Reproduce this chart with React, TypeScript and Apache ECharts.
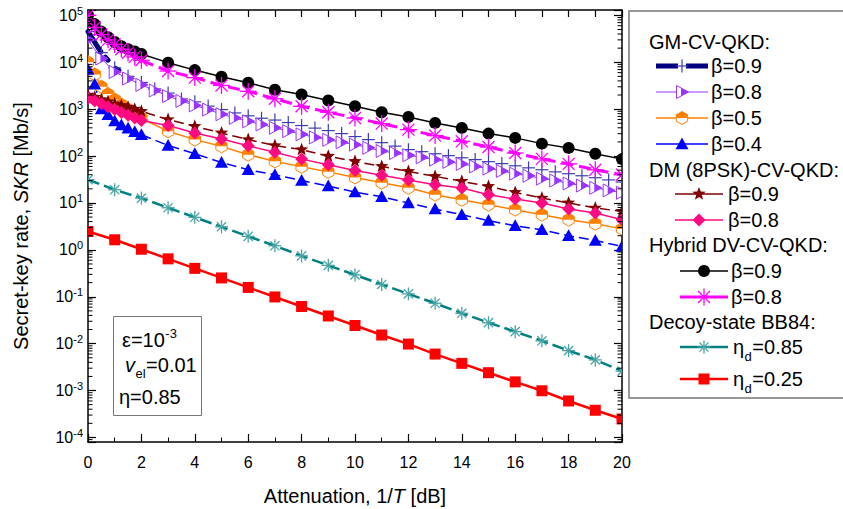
import React, { useEffect, useRef } from 'react';
import * as echarts from 'echarts';

// ---------------- data ----------------
const xHalf = [0, 0.5, 1, 1.5, 2, 2.5, 3, 3.5, 4, 4.5, 5, 5.5, 6, 6.5, 7, 7.5, 8, 8.5, 9, 9.5, 10, 10.5, 11, 11.5, 12, 12.5, 13, 13.5, 14, 14.5, 15, 15.5, 16, 16.5, 17, 17.5, 18, 18.5, 19, 19.5, 20];
const xDense = [0, 0.25, 0.5, 0.75, 1, 1.25, 1.5, 1.75, 2, 3, 4, 5, 6, 7, 8, 9, 10, 11, 12, 13, 14, 15, 16, 17, 18, 19, 20];
const xInt = [0, 1, 2, 3, 4, 5, 6, 7, 8, 9, 10, 11, 12, 13, 14, 15, 16, 17, 18, 19, 20];

// GM-CV-QKD
const gmB09 = [45000, 16000, 7600, 5000, 3700, 2700, 2200, 1650, 1430, 1160, 980, 830, 720, 640, 585, 518, 447, 394, 349, 301, 260, 224, 193, 163, 137, 124, 112, 102, 92, 84, 76, 69, 62, 56, 51, 46, 42, 38, 34.5, 31, 28];
const gmB08 = [30000, 12000, 6200, 4500, 3300, 2500, 1900, 1500, 1200, 980, 780, 650, 550, 470, 400, 340, 290, 250, 222, 196, 175, 150, 128, 116, 104, 94, 84, 75, 68, 60, 54, 48, 42, 38, 33, 30, 26, 23.5, 21, 18.5, 16.5];
const gmB05 = [10000, 5500, 3000, 2100, 1600, 1250, 1000, 800, 640, 337, 224, 161, 107, 77, 59, 46, 35, 27, 21, 15, 11.7, 9.2, 7.2, 5.6, 4.4, 3.6, 2.8];
const gmB04 = [7000, 3400, 1000, 760, 560, 460, 390, 330, 285, 168, 112, 73, 51, 40, 30, 23, 17, 13.5, 10, 7.4, 5.6, 4.2, 3.26, 2.67, 2.0, 1.58, 1.18];
// DM (8PSK)-CV-QKD
const dmB09 = [2000, 1800, 1600, 1450, 1300, 1200, 1100, 1000, 900, 600, 431, 310, 224, 167, 137, 99, 77, 60, 47, 37, 29, 22.5, 16.8, 12.7, 10, 7.8, 6.6];
const dmB08 = [1700, 1500, 1300, 1120, 980, 850, 740, 650, 570, 447, 310, 230, 165, 120, 86, 65, 49, 39, 31, 24.5, 20.8, 15, 12.1, 10, 7.4, 6.1, 4.4];
// Hybrid DV-CV-QKD
const hyB09 = [100000, 65000, 45000, 34000, 27000, 22000, 19000, 17000, 15000, 9800, 6800, 4900, 3650, 2600, 2050, 1530, 1150, 860, 680, 509, 398, 301, 244, 184, 149, 112, 86];
const hyB08 = [100000, 55000, 39000, 30000, 24000, 19000, 16000, 13000, 11000, 6500, 4700, 3200, 2400, 1660, 1150, 860, 650, 492, 366, 273, 206, 156, 116, 87, 68, 51, 40];
// Decoy-state BB84
const bbD085 = [31.3, 19.1, 12.7, 7.9, 4.94, 3.1, 1.94, 1.22, 0.745, 0.467, 0.292, 0.183, 0.115, 0.0726, 0.0444, 0.028, 0.018, 0.0115, 0.0071, 0.0045, 0.0026];
const bbD025 = [2.46, 1.64, 1.03, 0.643, 0.403, 0.252, 0.158, 0.099, 0.062, 0.0389, 0.0244, 0.0153, 0.0098, 0.006, 0.0038, 0.0024, 0.00153, 0.00099, 0.0006, 0.00038, 0.000248];

const groupTitles = ['GM-CV-QKD:', 'DM (8PSK)-CV-QKD:', 'Hybrid DV-CV-QKD:', 'Decoy-state BB84:'];
// label pieces: [main, subscript, rest]
const seriesLabels: string[][] = [
  ['β=0.9', '', ''], ['β=0.8', '', ''], ['β=0.5', '', ''], ['β=0.4', '', ''],
  ['β=0.9', '', ''], ['β=0.8', '', ''],
  ['β=0.9', '', ''], ['β=0.8', '', ''],
  ['η', 'd', '=0.85'], ['η', 'd', '=0.25'],
];

const Y_MIN = 8e-5;
const Y_MAX = 1.3e5;
const X_MIN = 0;
const X_MAX = 20;

// ---------------- styles ----------------
const FONT = '"Liberation Sans", Arial, Helvetica, sans-serif';
const FS = 20;
const FS_SMALL = 13;

type Def = {
  xs: number[]; ys: number[]; color: string; mColor: string; lw: number; lt: any;
  marker: string; size: number; line: boolean; label: string[];
};

const defs: Def[] = [
  { xs: xHalf, ys: gmB09, color: '#000080', mColor: '#3c3cb4', lw: 5, lt: [22, 8], marker: 'plus', size: 6.5, line: false, label: seriesLabels[0] },
  { xs: xHalf, ys: gmB08, color: '#9933ff', mColor: '#9933ff', lw: 1, lt: 'solid', marker: 'halfTri', size: 6.5, line: true, label: seriesLabels[1] },
  { xs: xDense, ys: gmB05, color: '#ff8000', mColor: '#ff8000', lw: 1.5, lt: 'solid', marker: 'halfHex', size: 6.5, line: true, label: seriesLabels[2] },
  { xs: xDense, ys: gmB04, color: '#0000ff', mColor: '#0000ff', lw: 1.5, lt: [10, 5], marker: 'triUp', size: 6.5, line: true, label: seriesLabels[3] },
  { xs: xDense, ys: dmB09, color: '#800000', mColor: '#800000', lw: 1.5, lt: [10, 5], marker: 'star', size: 7, line: true, label: seriesLabels[4] },
  { xs: xDense, ys: dmB08, color: '#ff0a80', mColor: '#ff0a80', lw: 1.5, lt: 'solid', marker: 'diamond', size: 6.5, line: true, label: seriesLabels[5] },
  { xs: xDense, ys: hyB09, color: '#000000', mColor: '#000000', lw: 1.5, lt: 'solid', marker: 'circle', size: 6, line: true, label: seriesLabels[6] },
  { xs: xDense, ys: hyB08, color: '#ff00ff', mColor: '#ff00ff', lw: 3, lt: [12, 6], marker: 'asterisk', size: 8.5, line: true, label: seriesLabels[7] },
  { xs: xInt, ys: bbD085, color: '#008080', mColor: '#4aa5a5', lw: 2.5, lt: [12, 5], marker: 'asterisk', size: 6.5, line: true, label: seriesLabels[8] },
  { xs: xInt, ys: bbD025, color: '#ff0000', mColor: '#ff0000', lw: 2.5, lt: 'solid', marker: 'square', size: 5.5, line: true, label: seriesLabels[9] },
];

let measureCtx: CanvasRenderingContext2D | null = null;
function measure(text: string, size: number, italic = false): number {
  if (!measureCtx) measureCtx = document.createElement('canvas').getContext('2d');
  if (!measureCtx) return text.length * size * 0.55;
  measureCtx.font = (italic ? 'italic ' : '') + size + 'px ' + FONT;
  return measureCtx.measureText(text).width;
}

function markerShapes(kind: string, cx: number, cy: number, color: string, s: number): any[] {
  switch (kind) {
    case 'circle':
      return [{ type: 'circle', shape: { cx, cy, r: s }, style: { fill: color } }];
    case 'square':
      return [{ type: 'rect', shape: { x: cx - s, y: cy - s, width: 2 * s, height: 2 * s }, style: { fill: color } }];
    case 'triUp':
      return [{ type: 'polygon', shape: { points: [[cx, cy - s], [cx + s, cy + 0.8 * s], [cx - s, cy + 0.8 * s]] }, style: { fill: color } }];
    case 'diamond':
      return [{ type: 'polygon', shape: { points: [[cx, cy - s], [cx + s, cy], [cx, cy + s], [cx - s, cy]] }, style: { fill: color } }];
    case 'star': {
      const pts: number[][] = [];
      for (let i = 0; i < 10; i++) {
        const a = -Math.PI / 2 + (i * Math.PI) / 5;
        const r = i % 2 === 0 ? s : s * 0.42;
        pts.push([cx + r * Math.cos(a), cy + r * Math.sin(a)]);
      }
      return [{ type: 'polygon', shape: { points: pts }, style: { fill: color } }];
    }
    case 'plus':
      return [
        { type: 'line', shape: { x1: cx - s, y1: cy, x2: cx + s, y2: cy }, style: { stroke: color, lineWidth: 1.2 } },
        { type: 'line', shape: { x1: cx, y1: cy - s, x2: cx, y2: cy + s }, style: { stroke: color, lineWidth: 1.2 } },
      ];
    case 'asterisk': {
      const out: any[] = [];
      for (let k = 0; k < 4; k++) {
        const a = (k * Math.PI) / 4;
        const dx = s * Math.cos(a);
        const dy = s * Math.sin(a);
        out.push({ type: 'line', shape: { x1: cx - dx, y1: cy - dy, x2: cx + dx, y2: cy + dy }, style: { stroke: color, lineWidth: 1.3 } });
      }
      return out;
    }
    case 'halfTri': {
      const ax = cx - 0.85 * s;
      const bx = cx + s;
      const xm = cx - 0.15 * s;
      const t = (xm - ax) / (bx - ax);
      const yt = cy - s + t * s;
      const yb = cy + s - t * s;
      return [
        { type: 'polygon', shape: { points: [[ax, cy - s], [bx, cy], [ax, cy + s]] }, style: { fill: '#ffffff', stroke: color, lineWidth: 1 } },
        { type: 'polygon', shape: { points: [[xm, yt], [bx, cy], [xm, yb]] }, style: { fill: color } },
      ];
    }
    case 'halfHex': {
      const pts: number[][] = [];
      for (let k = 0; k < 6; k++) {
        const a = -Math.PI / 2 + (k * Math.PI) / 3;
        pts.push([cx + s * Math.cos(a), cy + s * Math.sin(a)]);
      }
      const w = s * Math.cos(Math.PI / 6);
      return [
        { type: 'polygon', shape: { points: pts }, style: { fill: '#ffffff', stroke: color, lineWidth: 1 } },
        { type: 'polygon', shape: { points: [[cx - w, cy], [cx - w, cy - s / 2], [cx, cy - s], [cx + w, cy - s / 2], [cx + w, cy]] }, style: { fill: color } },
      ];
    }
    default:
      return [];
  }
}

function buildMinorTicks(): number[] {
  const vals: number[] = [];
  for (let k = -6; k <= 6; k++) {
    for (let m = 2; m <= 9; m++) {
      const v = m * Math.pow(10, k);
      if (v > Y_MIN && v < Y_MAX) vals.push(v);
    }
  }
  return vals;
}

function txt(x: number, y: number, text: string, size = FS, italic = false): any {
  return {
    type: 'text',
    x,
    y,
    z: 10,
    style: {
      text,
      fill: '#000',
      fontSize: size,
      fontFamily: FONT,
      fontStyle: italic ? 'italic' : 'normal',
      align: 'left',
      verticalAlign: 'middle',
    },
  };
}

// main text, lowered/raised small text, then main text again
function scriptText(x: number, y: number, a: string, small: string, rest: string, shift: number, aItalic = false): any[] {
  const out: any[] = [];
  out.push(txt(x, y, a, FS, aItalic));
  let cx = x + measure(a, FS, aItalic);
  if (small) {
    out.push(txt(cx + 0.5, y + shift, small, FS_SMALL));
    cx += measure(small, FS_SMALL) + 1;
  }
  if (rest) out.push(txt(cx, y, rest));
  return out;
}

function buildOption(): any {
  const series: any[] = [];

  // minor log ticks on left and right frame
  series.push({
    type: 'custom',
    silent: true,
    clip: false,
    data: buildMinorTicks().map((v) => [X_MIN, v]),
    encode: { x: 0, y: 1 },
    z: 5,
    renderItem: (params: any, api: any) => {
      const v = api.value(1);
      const pl = api.coord([X_MIN, v]);
      const pr = api.coord([X_MAX, v]);
      return {
        type: 'group',
        children: [
          { type: 'line', shape: { x1: pl[0], y1: pl[1], x2: pl[0] + 4.5, y2: pl[1] }, style: { stroke: '#000', lineWidth: 1 } },
          { type: 'line', shape: { x1: pr[0] - 4.5, y1: pr[1], x2: pr[0], y2: pr[1] }, style: { stroke: '#000', lineWidth: 1 } },
        ],
      };
    },
  });

  defs.forEach((d) => {
    const data = d.xs.map((x, i) => [x, d.ys[i]]);
    if (d.line) {
      series.push({
        type: 'line',
        data,
        symbol: 'none',
        silent: true,
        clip: true,
        lineStyle: { color: d.color, width: d.lw, type: d.lt },
        z: 2,
      });
    } else {
      // thick navy dashes only at the beginning of GM beta=0.9
      series.push({
        type: 'line',
        data: data.slice(0, 4),
        symbol: 'none',
        silent: true,
        clip: true,
        lineStyle: { color: d.color, width: 5, type: [24, 7, 4, 11, 4, 40], cap: 'round' },
        z: 2,
      });
    }
    series.push({
      type: 'custom',
      silent: true,
      clip: true,
      data,
      encode: { x: 0, y: 1 },
      z: 3,
      renderItem: (params: any, api: any) => {
        const p = api.coord([api.value(0), api.value(1)]);
        return { type: 'group', children: markerShapes(d.marker, p[0], p[1], d.mColor, d.size) };
      },
    });
  });

  // ---------- graphic: legend, annotation, axis titles ----------
  const g: any[] = [];

  // legend frame
  g.push({ type: 'rect', z: 9, shape: { x: 629, y: 11, width: 230, height: 387 }, style: { fill: '#fff', stroke: '#777', lineWidth: 1.5 } });
  const rows = [
    { title: groupTitles[0], ty: 42, items: [0, 1, 2, 3], ys: [66, 92, 118, 144], x1: 656, x2: 708, tx: 711 },
    { title: groupTitles[1], ty: 170, items: [4, 5], ys: [194, 220], x1: 675, x2: 723, tx: 728 },
    { title: groupTitles[2], ty: 245, items: [6, 7], ys: [271, 297], x1: 680, x2: 728, tx: 731 },
    { title: groupTitles[3], ty: 322, items: [8, 9], ys: [347, 379], x1: 680, x2: 728, tx: 733 },
  ];
  rows.forEach((r) => {
    g.push(txt(649, r.ty, r.title));
    r.items.forEach((si, j) => {
      const d = defs[si];
      const y = r.ys[j];
      const lw = si === 0 ? 5 : d.lw;
      g.push({
        type: 'line',
        z: 10,
        shape: { x1: r.x1, y1: y, x2: r.x2, y2: y },
        style: { stroke: d.color, lineWidth: lw, lineDash: si === 0 ? [22, 8] : null },
      });
      const cx = (r.x1 + r.x2) / 2;
      markerShapes(d.marker, cx, y, d.mColor, d.size).forEach((m) => {
        g.push(Object.assign({}, m, { z: 11 }));
      });
      scriptText(r.tx, y, d.label[0], d.label[1], d.label[2], 9).forEach((e) => g.push(e));
    });
  });

  // annotation box
  g.push({ type: 'rect', z: 9, shape: { x: 113.5, y: 316.5, width: 88, height: 99 }, style: { fill: '#fff', stroke: '#777', lineWidth: 1 } });
  scriptText(122, 340, 'ε=10', '-3', '', -7).forEach((e) => g.push(e));
  scriptText(125, 365, 'v', 'el', '=0.01', 8, true).forEach((e) => g.push(e));
  g.push(txt(119, 397, 'η=0.85'));

  // axis titles
  g.push({
    type: 'text',
    x: 355,
    y: 496,
    z: 10,
    style: {
      text: '{a|Attenuation, 1/}{i|T}{a| [dB]}',
      align: 'center',
      verticalAlign: 'middle',
      rich: {
        a: { fontSize: FS, fontFamily: FONT, fill: '#000' },
        i: { fontSize: FS, fontFamily: FONT, fill: '#000', fontStyle: 'italic' },
      },
    },
  });
  g.push({
    type: 'text',
    x: 21,
    y: 226,
    rotation: Math.PI / 2,
    z: 10,
    style: {
      text: '{a|Secret-key rate, }{i|SKR}{a| [Mb/s]}',
      align: 'center',
      verticalAlign: 'middle',
      rich: {
        a: { fontSize: FS, fontFamily: FONT, fill: '#000' },
        i: { fontSize: FS, fontFamily: FONT, fill: '#000', fontStyle: 'italic' },
      },
    },
  });

  const axisLine = { show: true, onZero: false, lineStyle: { color: '#000', width: 1.5 } };

  return {
    animation: false,
    backgroundColor: '#ffffff',
    grid: { left: 88, right: 221, top: 10, bottom: 67, containLabel: false, outerBoundsMode: 'none' },
    xAxis: [
      {
        type: 'value',
        position: 'bottom',
        min: X_MIN,
        max: X_MAX,
        interval: 2,
        axisLine,
        axisTick: { show: true, inside: true, length: 8, lineStyle: { color: '#000', width: 1.2 } },
        minorTick: { show: true, splitNumber: 2, length: 4.5, lineStyle: { color: '#000', width: 1 } },
        axisLabel: { show: true, margin: 12, fontSize: 16, fontFamily: FONT, color: '#000' },
        splitLine: { show: false },
      },
      {
        type: 'value',
        position: 'top',
        min: X_MIN,
        max: X_MAX,
        interval: 1,
        axisLine,
        axisTick: { show: true, inside: true, length: 7, lineStyle: { color: '#000', width: 1.2 } },
        axisLabel: { show: false },
        splitLine: { show: false },
      },
    ],
    yAxis: [
      {
        type: 'log',
        position: 'left',
        min: Y_MIN,
        max: Y_MAX,
        axisLine,
        axisTick: { show: true, inside: true, length: 8, lineStyle: { color: '#000', width: 1.2 } },
        axisLabel: {
          show: true,
          margin: 5,
          formatter: (v: number) => {
            const e = Math.round(Math.log10(v));
            if (Math.abs(v / Math.pow(10, e) - 1) > 1e-6) return '';
            return '{b|10}{s|' + e + '}';
          },
          rich: {
            b: { fontSize: 16, fontFamily: FONT, color: '#000', lineHeight: 20, verticalAlign: 'middle' },
            s: { fontSize: 11, fontFamily: FONT, color: '#000', lineHeight: 10, verticalAlign: 'top' },
          },
        },
        splitLine: { show: false },
      },
      {
        type: 'log',
        position: 'right',
        min: Y_MIN,
        max: Y_MAX,
        axisLine,
        axisTick: { show: true, inside: true, length: 8, lineStyle: { color: '#000', width: 1.2 } },
        axisLabel: { show: false },
        splitLine: { show: false },
      },
    ],
    series,
    graphic: { elements: g },
  };
}

export default function App() {
  const ref = useRef<HTMLDivElement>(null);
  useEffect(() => {
    if (!ref.current) return;
    const chart = echarts.init(ref.current, null, { renderer: 'svg' });
    chart.setOption(buildOption());
    return () => chart.dispose();
  }, []);
  return (
    <div
      ref={ref}
      style={{ position: 'fixed', left: 0, top: 0, width: 843, height: 509, background: '#fff' }}
    />
  );
}
